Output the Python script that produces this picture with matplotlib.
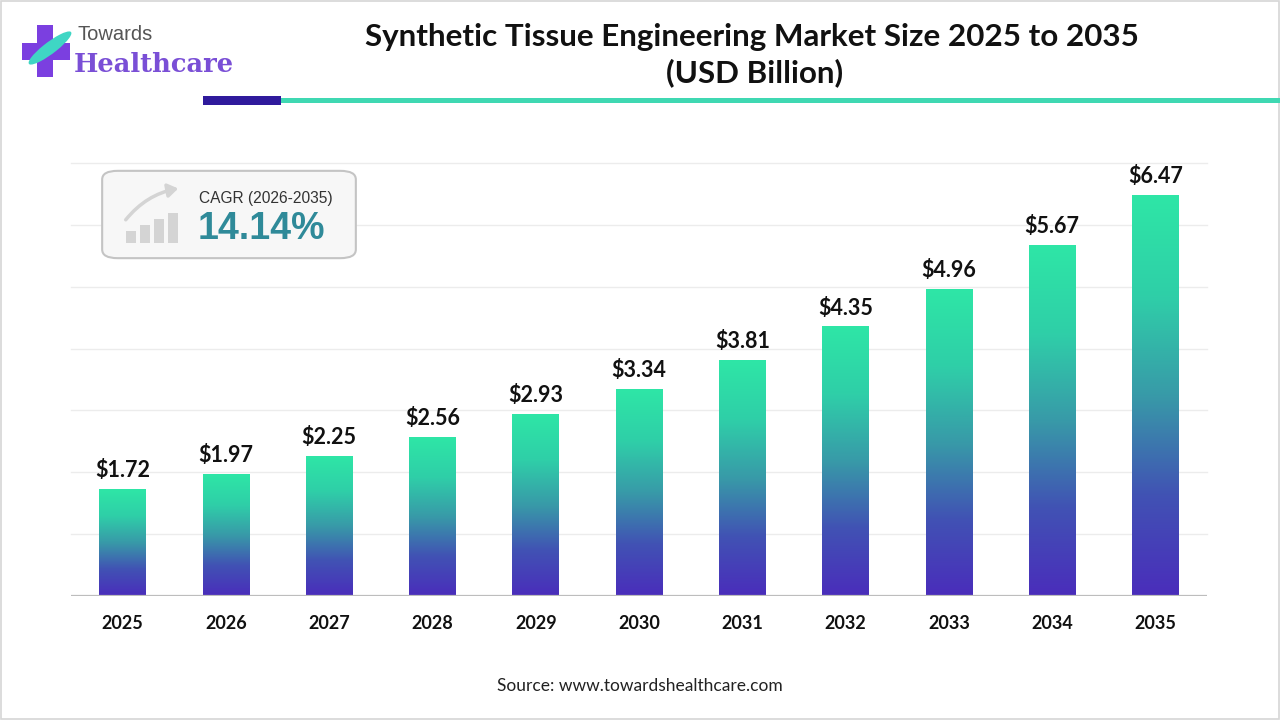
import matplotlib

matplotlib.use("Agg")
import matplotlib.pyplot as plt
import numpy as np
from matplotlib.colors import LinearSegmentedColormap
from matplotlib.patches import Rectangle, FancyBboxPatch, Ellipse, FancyArrowPatch

# data
years = ["2025", "2026", "2027", "2028", "2029", "2030",
         "2031", "2032", "2033", "2034", "2035"]
market_size = [1.72, 1.97, 2.25, 2.56, 2.93, 3.34, 3.81, 4.35, 4.96, 5.67, 6.47]
value_labels = ["$1.72", "$1.97", "$2.25", "$2.56", "$2.93", "$3.34",
                "$3.81", "$4.35", "$4.96", "$5.67", "$6.47"]
grid_levels = [1, 2, 3, 4, 5, 6, 7]
cagr_period = "CAGR (2026-2035)"
cagr_value = "14.14%"

W, H = 1280, 720


def fx(x):
    return x / W


def fy(y):
    return 1 - y / H


fig = plt.figure(figsize=(12.8, 7.2), dpi=100)
fig.patch.set_facecolor("white")

# figure border
fig.add_artist(Rectangle((0.001, 0.001), 0.998, 0.997, transform=fig.transFigure,
                         fill=False, edgecolor="#d6d6d6", lw=1.2))

# main axes
ax = fig.add_axes([fx(71), fy(596), fx(1207) - fx(71), fy(163) - fy(596)])
x = np.arange(len(years))
bar_w = 0.45
bars = ax.bar(x, market_size, width=bar_w, color="none", zorder=3)

cmap = LinearSegmentedColormap.from_list(
    "bar_grad",
    [(0.0, "#4a2dbb"), (0.25, "#4152b4"), (0.5, "#389aa8"),
     (0.75, "#2fcfa8"), (1.0, "#2ee6a6")])
grad = np.linspace(0, 1, 256).reshape(-1, 1)
for b in bars:
    x0 = b.get_x()
    ax.imshow(grad, extent=(x0, x0 + b.get_width(), 0, b.get_height()),
              origin="lower", cmap=cmap, aspect="auto", zorder=3)

for b, lab in zip(bars, value_labels):
    ax.annotate(lab, (b.get_x() + b.get_width() / 2, b.get_height()),
                xytext=(0, 6), textcoords="offset points", ha="center", va="bottom",
                fontsize=15.5, fontweight="bold", family="Lato", color="#111111")

for g in grid_levels:
    ax.axhline(g, color="#ececec", lw=1, zorder=1, clip_on=False)
ax.axhline(0, color="#bdbdbd", lw=1.6, zorder=4)

ax.set_xlim(-0.5, len(years) - 0.5)
ax.set_ylim(0, 7)
ax.set_xticks(x)
ax.set_xticklabels(years, fontsize=13, fontweight="bold", family="Lato", color="#111111")
ax.tick_params(axis="x", length=0, pad=14)
ax.set_yticks([])
for s in ax.spines.values():
    s.set_visible(False)
ax.patch.set_alpha(0)

# title
fig.text(fx(752), fy(37), "Synthetic Tissue Engineering Market Size 2025 to 2035",
         ha="center", va="center", fontsize=22.6, fontweight="bold", family="Lato",
         color="#111111")
fig.text(fx(755), fy(73), "(USD Billion)", ha="center", va="center", fontsize=22.6,
         fontweight="bold", family="Lato", color="#111111")

# header rule
fig.add_artist(Rectangle((fx(281), fy(103)), fx(1280) - fx(281), 5 / H,
                         transform=fig.transFigure, color="#3fd8b2", lw=0))
fig.add_artist(Rectangle((fx(203), fy(105)), fx(281) - fx(203), 9 / H,
                         transform=fig.transFigure, color="#2f1a9c", lw=0))

# logo
fig.add_artist(Rectangle((fx(22), fy(60)), 48 / W, 17 / H, transform=fig.transFigure,
                         color="#7b3fe0", lw=0))
fig.add_artist(Rectangle((fx(37), fy(77)), 16 / W, 52 / H, transform=fig.transFigure,
                         color="#7b3fe0", lw=0))
fig.add_artist(Ellipse((fx(50), fy(48)), 16 / W, 40 / H, angle=-35,
                       transform=fig.transFigure, color="#3fd6c4", lw=0))
fig.text(fx(77), fy(34), "Towards", ha="left", va="center", fontsize=14.5,
         family="Liberation Sans", color="#555555")
fig.text(fx(74), fy(65), "Healthcare", ha="left", va="center", fontsize=18.5,
         fontweight="bold", family="DejaVu Serif", color="#7a4fd6")

# CAGR box
fig.add_artist(FancyBboxPatch((fx(106), fy(256)), (356 - 106 - 4) / W, (256 - 173) / H,
                              boxstyle="round,pad=0.003,rounding_size=0.012",
                              transform=fig.transFigure, facecolor="#f7f7f7",
                              edgecolor="#c4c4c4", lw=1.5, zorder=5))
icon_heights = [12, 18, 24, 30]
for i, h in enumerate(icon_heights):
    fig.add_artist(Rectangle((fx(126 + i * 14), fy(243)), 10 / W, h / H,
                             transform=fig.transFigure, color="#d4d4d4", lw=0, zorder=6))
fig.add_artist(FancyArrowPatch((fx(124), fy(222)), (fx(181), fy(188)),
                               connectionstyle="arc3,rad=-0.2", arrowstyle="-|>,head_width=4,head_length=6",
                               transform=fig.transFigure, color="#d4d4d4", lw=2.5, zorder=6))
fig.text(fx(199), fy(199), cagr_period, ha="left", va="center", fontsize=11.2,
         family="Liberation Sans", color="#333333", zorder=7)
fig.text(fx(198), fy(229), cagr_value, ha="left", va="center", fontsize=27,
         fontweight="bold", family="Liberation Sans", color="#2f8a99", zorder=7)

# source
fig.text(fx(640), fy(686), "Source: www.towardshealthcare.com", ha="center", va="center",
         fontsize=12.5, family="Lato", color="#222222")

fig.savefig("out.png", dpi=100)
